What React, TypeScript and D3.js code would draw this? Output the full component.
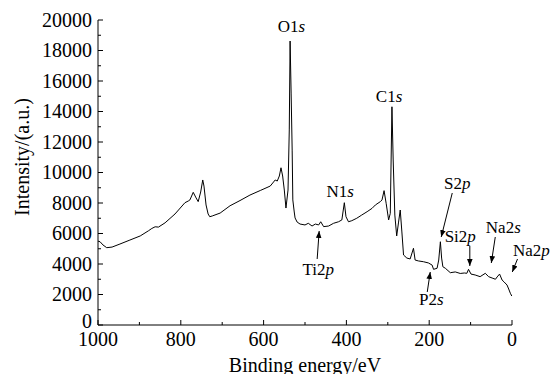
import React from 'react';
import * as d3 from 'd3';

// Binding energy (eV) and intensity (a.u.)
const energy = [1000, 995, 988, 979, 966, 947, 923, 898, 878, 870, 862, 854, 838, 814, 790, 782, 778, 770, 763, 758, 752, 747, 744, 739, 734, 730, 724, 705, 681, 657, 633, 608, 584, 572, 567, 562, 558, 554, 550, 546, 541, 538, 536, 533.5, 531, 529.4, 526, 524, 519, 512, 500, 492, 483, 475, 467, 462, 455, 443, 431, 419, 411, 405, 401, 395, 387, 375, 363, 350, 338, 330, 318, 314, 309, 304, 298, 294, 290, 287, 283, 278.5, 274, 270, 266, 262, 254, 246, 238, 234, 226, 214, 202, 193, 189.5, 181, 177, 173, 170, 167, 161, 149, 137, 125, 115, 109, 105, 99, 89, 77, 64.5, 56.5, 48, 40, 36, 30, 24, 19, 12, 8, 4, 0.5];
const intensity = [5500, 5460, 5250, 5070, 5110, 5310, 5570, 5840, 6180, 6330, 6440, 6420, 6700, 7280, 8020, 8130, 8200, 8700, 8330, 8090, 8720, 9510, 9110, 7870, 7280, 7100, 7150, 7340, 7820, 8160, 8520, 8820, 9110, 9510, 9440, 9770, 10310, 9770, 8850, 7670, 8850, 12790, 18620, 15210, 11470, 8200, 7410, 7020, 6750, 6620, 6560, 6670, 6490, 6620, 6560, 6770, 6450, 6490, 6670, 6770, 6890, 8020, 7100, 6770, 6840, 7000, 7210, 7430, 7650, 7870, 8090, 8200, 8810, 7980, 6890, 7320, 14310, 10820, 7210, 5840, 6750, 7540, 6100, 4590, 4390, 4330, 5030, 4260, 4200, 4150, 4070, 3930, 3650, 3720, 4260, 5460, 4390, 3820, 3720, 3430, 3480, 3380, 3410, 3390, 3650, 3340, 3280, 3170, 3390, 3170, 3080, 3000, 3150, 3340, 2950, 2820, 2620, 2360, 2080, 1900];

const xTicks = [1000, 800, 600, 400, 200, 0];
const xMinor = [900, 700, 500, 300, 100];
const yTicks = [0, 2000, 4000, 6000, 8000, 10000, 12000, 14000, 16000, 18000, 20000];
const yMinor = [1000, 3000, 5000, 7000, 9000, 11000, 13000, 15000, 17000, 19000];

// Peak labels: element part, italic orbital part, anchor in data units (energy, intensity)
const labelEl = ['O1', 'C1', 'N1', 'Ti2', 'P2', 'S2', 'Si2', 'Na2', 'Na2'];
const labelOrb = ['s', 's', 's', 'p', 's', 'p', 'p', 's', 'p'];
const labelE = [533, 297, 415, 468, 195, 132, 125, 21, -47];
const labelI = [19210, 14620, 8390, 3280, 1310, 8920, 5440, 6030, 4520];

// Arrows from label to peak, in data units
const arrowE1 = [470.6, 204.7, 144.3, 101.9, 40.4, -13.3];
const arrowI1 = [4328, 2164, 8655, 5180, 5770, 4328];
const arrowE2 = [465.8, 197.5, 170.9, 101.9, 50, -0.7];
const arrowI2 = [6164, 3475, 5770, 3869, 4065, 3475];

const FONT = '"Liberation Serif", "Times New Roman", serif';

export default function App() {
  const W = 554;
  const H = 374;
  const x = d3.scaleLinear().domain([1000, 0]).range([98, 512]);
  const y = d3.scaleLinear().domain([0, 20000]).range([325, 20]);
  const line = d3
    .line<number>()
    .x((_, i) => x(energy[i]))
    .y((d) => y(d));
  const path = line(intensity) || '';
  const x0 = x(1000);
  const y0 = y(0);

  return (
    <svg
      width={W}
      height={H}
      viewBox={`0 0 ${W} ${H}`}
      style={{ position: 'absolute', left: 0, top: 0, background: '#fff' }}
      fontFamily={FONT}
    >
      <defs>
        <marker
          id="ah"
          markerUnits="userSpaceOnUse"
          markerWidth={8}
          markerHeight={8}
          refX={7}
          refY={4}
          orient="auto"
        >
          <path d="M0,1.2 L7,4 L0,6.8 Z" fill="#000" />
        </marker>
      </defs>
      <rect x={0} y={0} width={W} height={H} fill="#fff" />
      {/* axes */}
      <line x1={x0} y1={y(20000)} x2={x0} y2={y0} stroke="#000" strokeWidth={1} />
      <line x1={x0} y1={y0} x2={x(0)} y2={y0} stroke="#000" strokeWidth={1} />
      {yTicks.map((t) => (
        <g key={'y' + t}>
          <line x1={x0} x2={x0 + 5} y1={y(t)} y2={y(t)} stroke="#000" />
          <text
            x={x0 - 6}
            y={y(t) - (t === 0 ? 4 : 0)}
            dy="0.34em"
            textAnchor="end"
            fontSize={20}
            fill="#000"
          >
            {t}
          </text>
        </g>
      ))}
      {yMinor.map((t) => (
        <line key={'ym' + t} x1={x0} x2={x0 + 3} y1={y(t)} y2={y(t)} stroke="#000" />
      ))}
      {xTicks.map((t) => (
        <g key={'x' + t}>
          <line x1={x(t)} x2={x(t)} y1={y0} y2={y0 - 5} stroke="#000" />
          <text x={x(t)} y={y0 + 21} textAnchor="middle" fontSize={20} fill="#000">
            {t}
          </text>
        </g>
      ))}
      {xMinor.map((t) => (
        <line key={'xm' + t} x1={x(t)} x2={x(t)} y1={y0} y2={y0 - 3} stroke="#000" />
      ))}
      <text
        x={(x(1000) + x(0)) / 2}
        y={372}
        textAnchor="middle"
        fontSize={20}
        fill="#000"
      >
        Binding energy/eV
      </text>
      <text
        transform={`translate(29,157) rotate(-90)`}
        textAnchor="middle"
        fontSize={20}
        fill="#000"
      >
        Intensity/(a.u.)
      </text>
      {/* spectrum */}
      <path d={path} fill="none" stroke="#000" strokeWidth={1} strokeLinejoin="round" />
      {/* labels */}
      {labelEl.map((el, i) => (
        <text
          key={'l' + i}
          x={x(labelE[i])}
          y={y(labelI[i])}
          textAnchor="middle"
          fontSize={17}
          fill="#000"
        >
          {el}
          <tspan fontStyle="italic">{labelOrb[i]}</tspan>
        </text>
      ))}
      {arrowE1.map((e, i) => (
        <line
          key={'a' + i}
          x1={x(e)}
          y1={y(arrowI1[i])}
          x2={x(arrowE2[i])}
          y2={y(arrowI2[i])}
          stroke="#000"
          strokeWidth={1}
          markerEnd="url(#ah)"
        />
      ))}
    </svg>
  );
}
